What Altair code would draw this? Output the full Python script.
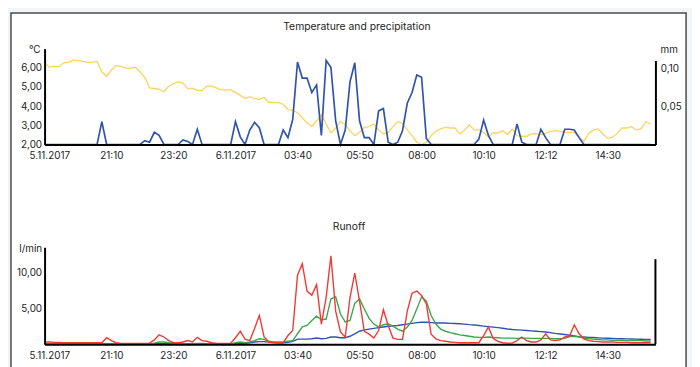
import json
import altair as alt
import pandas as pd

# ---------------- data ----------------
tick_index = [1, 14, 27, 40, 53, 66, 79, 92, 105, 118]
tick_labels = ["5.11.2017", "21:10", "23:20", "6.11.2017", "03:40",
               "05:50", "08:00", "10:10", "12:12", "14:30"]

temp = [
    6.28, 6.02, 6.07, 6.06, 6.26, 6.28, 6.40, 6.38, 6.33, 6.28,
    6.28, 6.33, 5.78, 5.56, 5.87, 6.12, 6.06, 6.00, 5.97, 6.04,
    5.78, 5.50, 4.95, 4.92, 4.87, 4.75, 5.04, 5.18, 5.26, 5.20,
    4.90, 4.94, 4.82, 4.82, 5.04, 5.04, 4.95, 4.85, 4.85, 4.85,
    4.72, 4.56, 4.41, 4.49, 4.39, 4.36, 4.46, 4.20, 4.20, 4.18,
    4.10, 3.82, 3.79, 3.66, 3.38, 3.12, 2.94, 3.24, 3.55, 3.07,
    2.60, 2.86, 3.20, 3.03, 2.72, 2.46, 2.63, 2.89, 2.93, 3.07,
    2.76, 2.55, 2.63, 2.93, 3.19, 3.10, 2.76, 2.46, 2.12, 2.00,
    2.12, 2.46, 2.69, 2.82, 2.89, 2.86, 2.86, 2.55, 2.76, 3.03,
    2.76, 2.76, 2.63, 2.41, 2.60, 2.60, 2.72, 2.52, 2.81, 2.46,
    2.43, 2.43, 2.55, 2.57, 2.52, 2.58, 2.69, 2.72, 2.69, 2.65,
    2.63, 2.63, 2.38, 2.17, 2.58, 2.76, 2.81, 2.55, 2.32, 2.38,
    2.58, 2.86, 2.86, 2.93, 2.76, 2.81, 3.20, 3.07,
]

precip = [
    0, 0, 0, 0, 0, 0, 0, 0, 0, 0,
    0, 0, 0.030, 0, 0, 0, 0, 0, 0, 0,
    0, 0.005, 0.003, 0.016, 0.012, 0, 0, 0, 0, 0.006,
    0.004, 0, 0.020, 0, 0, 0, 0, 0, 0, 0,
    0.030, 0.010, 0, 0.019, 0.029, 0.022, 0, 0, 0, 0,
    0.019, 0.009, 0.033, 0.108, 0.087, 0.087, 0.068, 0.078, 0.012, 0.110,
    0.101, 0.031, 0, 0.019, 0.082, 0.107, 0.031, 0.009, 0.009, 0,
    0.044, 0.047, 0.003, 0, 0.003, 0.018, 0.054, 0.068, 0.091, 0.088,
    0.008, 0, 0, 0, 0, 0, 0, 0, 0, 0,
    0, 0.007, 0.032, 0.012, 0, 0, 0, 0, 0, 0.027,
    0.003, 0, 0, 0, 0.020, 0.009, 0, 0, 0, 0.020,
    0.020, 0.019, 0.009, 0, 0, 0, 0, 0, 0, 0,
    0, 0, 0, 0, 0, 0, 0, 0,
]

runoff_red = [
    0.3, 0.3, 0.25, 0.25, 0.2, 0.2, 0.2, 0.2, 0.2, 0.2,
    0.2, 0.2, 0.2, 0.9, 0.5, 0.2, 0.1, 0.1, 0.1, 0.1,
    0.1, 0.1, 0.15, 0.6, 1.3, 1.0, 0.5, 0.2, 0.2, 0.3,
    0.5, 0.3, 0.95, 0.5, 0.4, 0.2, 0.1, 0.1, 0.1, 0.15,
    0.9, 1.8, 0.7, 0.5, 2.2, 4.0, 1.0, 0.3, 0.2, 0.2,
    0.2, 1.2, 1.9, 9.6, 11.2, 7.4, 6.8, 8.3, 2.8, 6.5,
    12.3, 4.6, 1.7, 1.0, 6.5, 9.9, 6.0, 1.8, 1.4, 0.85,
    1.9, 4.8, 2.6, 0.85, 0.66, 0.66, 4.6, 7.1, 7.4, 6.8,
    5.6, 1.4, 0.75, 0.5, 0.4, 0.3, 0.25, 0.2, 0.2, 0.2,
    0.2, 0.2, 1.2, 2.4, 0.8, 0.4, 0.2, 0.15, 0.15, 0.5,
    1.0, 0.5, 0.3, 0.3, 0.6, 1.45, 0.6, 0.5, 0.6, 1.0,
    1.1, 2.7, 1.45, 0.75, 0.5, 0.4, 0.35, 0.3, 0.3, 0.3,
    0.25, 0.25, 0.25, 0.2, 0.2, 0.2, 0.2, 0.2,
]

runoff_green = [
    0.05, 0.05, 0.05, 0.05, 0.05, 0.05, 0.05, 0.05, 0.05, 0.05,
    0.05, 0.05, 0.05, 0.05, 0.05, 0.05, 0.05, 0.05, 0.05, 0.05,
    0.05, 0.05, 0.05, 0.15, 0.3, 0.3, 0.2, 0.15, 0.1, 0.05,
    0.05, 0.05, 0.1, 0.1, 0.05, 0.05, 0.05, 0.05, 0.05, 0.05,
    0.2, 0.3, 0.2, 0.3, 0.5, 0.75, 0.66, 0.4, 0.3, 0.3,
    0.3, 0.4, 0.5, 1.45, 2.4, 2.6, 3.3, 3.9, 3.4, 3.5,
    6.3, 6.6, 4.2, 3.1, 3.3, 5.7, 6.3, 4.9, 3.6, 2.8,
    2.4, 2.7, 2.8, 2.5, 2.1, 1.8, 2.4, 3.3, 4.9, 6.6,
    6.0, 4.0, 2.8, 2.1, 1.8, 1.6, 1.45, 1.3, 1.2, 1.1,
    1.0, 0.95, 0.95, 1.0, 0.95, 0.9, 0.85, 0.85, 0.85, 0.8,
    0.85, 0.85, 0.8, 0.8, 0.8, 0.8, 0.8, 0.75, 0.75, 0.8,
    1.05, 1.1, 1.0, 0.85, 0.75, 0.7, 0.65, 0.6, 0.6, 0.55,
    0.55, 0.55, 0.5, 0.5, 0.5, 0.5, 0.45, 0.45,
]

runoff_blue = [
    0.05, 0.05, 0.05, 0.05, 0.05, 0.05, 0.05, 0.05, 0.05, 0.05,
    0.05, 0.05, 0.05, 0.05, 0.05, 0.05, 0.05, 0.05, 0.05, 0.05,
    0.05, 0.05, 0.05, 0.05, 0.05, 0.05, 0.05, 0.05, 0.05, 0.05,
    0.05, 0.05, 0.05, 0.05, 0.05, 0.05, 0.05, 0.05, 0.05, 0.05,
    0.05, 0.05, 0.1, 0.2, 0.3, 0.35, 0.35, 0.3, 0.25, 0.2,
    0.2, 0.25, 0.4, 0.7, 0.7, 0.7, 0.75, 0.85, 0.75, 0.8,
    1.0, 1.0, 0.9, 0.9, 1.1, 1.45, 1.8, 2.0, 2.1, 2.2,
    2.3, 2.4, 2.5, 2.55, 2.6, 2.7, 2.8, 2.9, 3.0, 3.05,
    3.05, 3.0, 2.95, 2.95, 2.95, 2.9, 2.88, 2.85, 2.8, 2.72,
    2.68, 2.6, 2.52, 2.45, 2.38, 2.3, 2.22, 2.12, 2.05, 2.0,
    1.95, 1.9, 1.85, 1.8, 1.75, 1.7, 1.6, 1.5, 1.42, 1.35,
    1.25, 1.15, 1.05, 1.0, 0.95, 0.92, 0.88, 0.85, 0.83, 0.8,
    0.78, 0.76, 0.74, 0.72, 0.7, 0.68, 0.66, 0.65,
]

temp_ticks = [2, 3, 4, 5, 6]
precip_ticks = [0.05, 0.10]
runoff_ticks = [5, 10]
series_names = ["blue", "green", "red"]
series_colors = ["#3053ad", "#3ca64a", "#f03a36"]

# ---------------- frames ----------------
N = len(temp)
idx = list(range(N))
top_df = pd.DataFrame({"i": idx, "temp": temp, "precip": precip})
run_df = pd.DataFrame({
    "i": idx * 3,
    "runoff": runoff_blue + runoff_green + runoff_red,
    "series": ["blue"] * N + ["green"] * N + ["red"] * N,
})
one = pd.DataFrame({"k": [0]})

W, H = 618, 299
FONT = "Inter"
TXT = "#1e1e1e"

x_label_expr = f"{json.dumps(tick_labels)}[indexof({json.dumps(tick_index)}, datum.value)]"
num_expr = "replace(format(datum.value, '.2f'), '.', ',')"


def x_axis(offset):
    return alt.Axis(orient="bottom", offset=offset, values=tick_index,
                    labelExpr=x_label_expr, ticks=False, grid=False,
                    domainColor="black", domainWidth=2, labelPadding=6,
                    labelAngle=0, title=None, zindex=1, labelOverlap=False,
                    labelFlush=False)


def x_scale():
    return alt.Scale(domain=[0, 128], nice=False, zero=False)


panel = alt.Chart(one).mark_rect(fill="white", stroke="#4b4b4b", strokeWidth=1.5).encode(
    x=alt.value(-34), x2=alt.value(649), y=alt.value(-36), y2=alt.value(340))

temp_line = alt.Chart(top_df).mark_line(color="#fbd45e", strokeWidth=1.3).encode(
    x=alt.X("i:Q", scale=x_scale(), axis=x_axis(-202)),
    y=alt.Y("temp:Q", scale=alt.Scale(domain=[2, 7], range=[97, 0], nice=False, zero=False),
            axis=alt.Axis(orient="left", values=temp_ticks, labelExpr=num_expr,
                          ticks=False, grid=False, domainColor="black", domainWidth=2,
                          labelPadding=3, title=None, zindex=1)))

precip_line = alt.Chart(top_df).mark_line(color="#3053ad", strokeWidth=1.7).encode(
    x=alt.X("i:Q", scale=x_scale(), axis=None),
    y=alt.Y("precip:Q", scale=alt.Scale(domain=[0, 0.11], range=[97, 12], nice=False, zero=False),
            axis=alt.Axis(orient="right", values=precip_ticks, labelExpr=num_expr,
                          ticks=False, grid=False, domainColor="black", domainWidth=2,
                          labelPadding=5, title=None, zindex=1)))

runoff_lines = alt.Chart(run_df).mark_line(strokeWidth=1.4).encode(
    x=alt.X("i:Q", scale=x_scale(), axis=x_axis(0)),
    y=alt.Y("runoff:Q", scale=alt.Scale(domain=[0, 13.5], range=[299, 201], nice=False, zero=False),
            axis=alt.Axis(orient="left", values=runoff_ticks, labelExpr=num_expr,
                          ticks=False, grid=False, domainColor="black", domainWidth=2,
                          labelPadding=3, title=None, zindex=1)),
    color=alt.Color("series:N", scale=alt.Scale(domain=series_names, range=series_colors),
                    legend=None))

right_rule = alt.Chart(one).mark_rule(color="black", strokeWidth=2).encode(
    x=alt.value(W), y=alt.value(213), y2=alt.value(H))


def label(text, x, y, size=10, align="center"):
    return alt.Chart(one).mark_text(text=text, font=FONT, fontSize=size, color=TXT,
                                    align=align, baseline="middle").encode(
        x=alt.value(x), y=alt.value(y))


t1 = label("Temperature and precipitation", 316, -22, 10.5)
t2 = label("Runoff", 308, 180, 10.5)
u1 = label("°C", -10, 1.5)
u2 = label("mm", 632, 1.5)
u3 = label("l/min", -14, 203)

chart = alt.layer(
    panel, temp_line, precip_line, runoff_lines, right_rule, t1, t2, u1, u2, u3
).resolve_scale(
    x="independent", y="independent", color="independent"
).properties(
    width=W, height=H,
    autosize=alt.AutoSizeParams(type="none"),
    padding={"left": 37, "top": 39, "right": 37, "bottom": 21},
    background="#f2f6f9",
).configure_view(
    stroke="transparent"
).configure_axis(
    labelFont=FONT, labelFontSize=10, labelColor=TXT
)

chart.save("out.html", embed_options={"renderer": "svg", "actions": False})
